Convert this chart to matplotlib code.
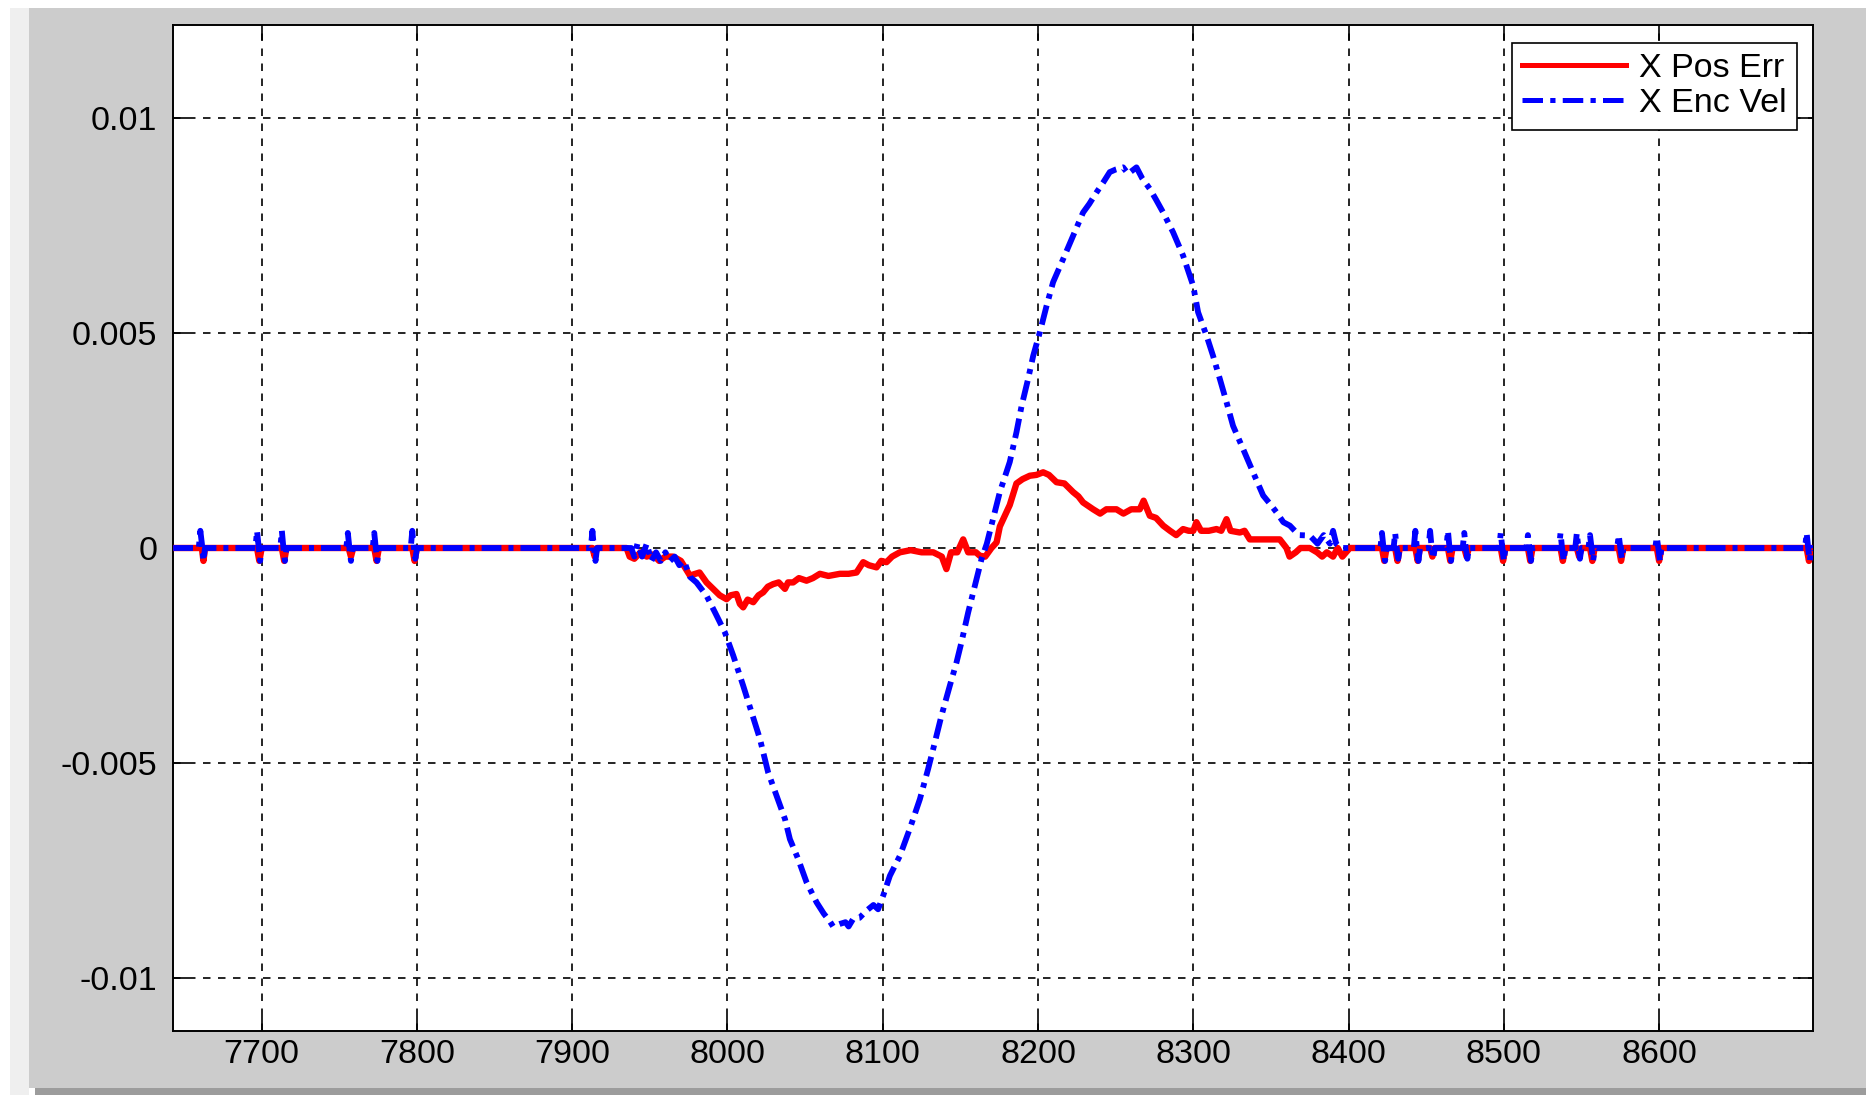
import matplotlib
matplotlib.use("Agg")
import matplotlib.pyplot as plt
from matplotlib.patches import Rectangle

plt.rcParams['font.family'] = ['Liberation Sans', 'DejaVu Sans']

# X Enc Vel (blue, dash-dot)
vel_x = [7643, 7659.5, 7660.5, 7661.5, 7662.5, 7663.5,
         7696, 7697, 7698, 7699, 7700,
         7712, 7713, 7714, 7715, 7716,
         7754.5, 7755.5, 7756.5, 7757.5, 7758.5,
         7771.5, 7772.5, 7773.5, 7774.5, 7775.5,
         7796, 7797, 7798, 7799, 7800,
         7912, 7913, 7914, 7915, 7916,
         7938, 7940, 7942, 7945, 7948, 7951, 7954, 7957, 7960, 7963, 7966, 7969, 7972,
         7975.8, 7980, 7986.5, 7992, 7998.3, 8003.7, 8010.1, 8015.5, 8020.9, 8026.2,
         8031.6, 8037, 8040.2, 8045.5, 8050.9, 8057.4, 8062, 8065.9, 8068, 8072.4,
         8076, 8078, 8081, 8085, 8089.6, 8094, 8097, 8100.3, 8104.6, 8111, 8117.4,
         8123.9, 8129.2, 8132.5, 8137.8, 8143.2, 8147.5, 8150.7, 8155, 8159.3, 8163.6,
         8167, 8171, 8175.4, 8181.8, 8186.1, 8189.4, 8193.6, 8196.9, 8201.2, 8205.5,
         8209.7, 8216.2, 8222.6, 8229, 8233, 8237.7, 8242, 8246.2, 8250, 8254.8, 8258,
         8263.4, 8267, 8272, 8276, 8280.6, 8287, 8293.4, 8299.9, 8303.1, 8308.5, 8312.7,
         8317.1, 8321.4, 8325.6, 8332.1, 8338.5, 8345, 8350, 8353.6, 8358, 8362.2, 8368,
         8375, 8380, 8384, 8388, 8390, 8392, 8395, 8400.8,
         8420.5, 8421.5, 8422.5, 8423.5, 8424.5,
         8429, 8430, 8431, 8432, 8433,
         8442, 8443, 8444, 8445, 8446,
         8451.5, 8452.5, 8453.5, 8454.5, 8455.5,
         8463, 8464, 8465, 8466, 8467,
         8473.5, 8474.5, 8475.5, 8476.5, 8477.5,
         8497, 8498, 8499, 8500, 8501,
         8514.5, 8515.5, 8516.5, 8517.5, 8518.5,
         8535.5, 8536.5, 8537.5, 8538.5, 8539.5,
         8546, 8547, 8548, 8549, 8550,
         8554.5, 8555.5, 8556.5, 8557.5, 8558.5,
         8573, 8574, 8575, 8576, 8577,
         8597.5, 8598.5, 8599.5, 8600.5, 8601.5,
         8694, 8695, 8696, 8697, 8698, 8699.3]
vel_y = [0, 0, 0.00040, 0.00010, -0.00030, 0,
         0, 0.00040, 0.00005, -0.00030, 0,
         0, 0.00040, 0.0, -0.00030, 0,
         0, 0.00035, 0.0, -0.00030, 0,
         0, 0.00035, 0.0, -0.00030, 0,
         0, 0.00040, 0.0, -0.00025, 0,
         0, 0.00040, 0.0, -0.00030, 0,
         0, -0.0002, 0.0001, -0.0002, 0.0001, -0.0003, -0.0001, -0.0003, -0.0001, -0.0003, -0.0002, -0.0004, -0.0003,
         -0.00067, -0.0008, -0.00111, -0.0015, -0.00196, -0.0025, -0.0032, -0.00382, -0.00444, -0.00522,
         -0.00576, -0.0063, -0.00677, -0.00723, -0.00777, -0.00824, -0.0085, -0.00868, -0.0088, -0.00874,
         -0.0087, -0.0088, -0.00862, -0.0086, -0.00843, -0.0083, -0.0084, -0.00808, -0.00762, -0.00716, -0.00653,
         -0.00584, -0.00514, -0.00467, -0.0039, -0.0032, -0.00266, -0.00219, -0.0015, -0.00088, -0.00026,
         0.0001, 0.00067, 0.0013, 0.002, 0.00269, 0.0033, 0.00393, 0.00447, 0.00502, 0.00563,
         0.00618, 0.00672, 0.00726, 0.0078, 0.0080, 0.00827, 0.0085, 0.00874, 0.0088, 0.00885, 0.0087,
         0.00885, 0.0086, 0.00835, 0.0081, 0.0078, 0.00734, 0.0068, 0.0061, 0.00548, 0.00494, 0.00447,
         0.00393, 0.00339, 0.00284, 0.0023, 0.00176, 0.00122, 0.0010, 0.00083, 0.0006, 0.00052, 0.0003,
         0.00029, 0.0001, 0.0003, 0.0001, 0.0004, 0.0001, 0.0, 0.0,
         0, 0.00035, 0.0, -0.00030, 0,
         0, 0.00035, 0.0, -0.00025, 0,
         0, 0.00040, 0.0, -0.00030, 0,
         0, 0.00040, 0.0, -0.00025, 0,
         0, 0.00040, 0.0, -0.00030, 0,
         0, 0.00035, 0.0, -0.00025, 0,
         0, 0.00035, 0.0, -0.00030, 0,
         0, 0.00030, 0.0, -0.00030, 0,
         0, 0.00035, 0.0, -0.00030, 0,
         0, 0.00035, 0.0, -0.00025, 0,
         0, 0.00030, 0.0, -0.00030, 0,
         0, 0.00030, 0.0, -0.00025, 0,
         0, 0.00025, 0.0, -0.00030, 0,
         0, 0.00035, 0.0, -0.00030, 0, 0]

# X Pos Err (red, solid)
err_x = [7643, 7661.5, 7662.5, 7663.5, 7697, 7698.5, 7700, 7713, 7714.5, 7716,
         7756, 7757.5, 7759, 7772.5, 7774, 7775.5, 7797, 7798.5, 7800, 7913, 7914.5, 7916,
         7935, 7937, 7940, 7944, 7948, 7952, 7956, 7960, 7965, 7970,
         7975.8, 7982, 7986.5, 7990.8, 7995, 7999.4, 8002, 8005.8, 8008, 8010.1, 8013,
         8016.6, 8020, 8023, 8026, 8029.4, 8033, 8037, 8039, 8042.3, 8046, 8050.9, 8055,
         8059.5, 8065, 8072.4, 8078, 8083.1, 8087.4, 8091, 8096, 8099, 8102.4, 8106,
         8111, 8118, 8125, 8132.5, 8138, 8141, 8144, 8148, 8151.8, 8155, 8160, 8162.5,
         8166, 8170, 8173.3, 8175.4, 8181.8, 8186.1, 8190, 8194.7, 8199, 8203.3, 8207,
         8211.9, 8217, 8222.6, 8226, 8229, 8235.5, 8240, 8244, 8250.5, 8255, 8260,
         8265.5, 8268, 8272, 8276, 8280.6, 8285, 8289, 8293.4, 8297, 8300, 8302, 8305,
         8310, 8314.9, 8318, 8321.4, 8324, 8330, 8333, 8336.4, 8345, 8355.7, 8360, 8362,
         8366, 8369, 8375, 8379.7, 8383, 8386, 8390, 8393, 8396, 8400.8,
         8421.5, 8423, 8424.5, 8430, 8431.5, 8433, 8443, 8444.5, 8446, 8452.5, 8454, 8455.5,
         8464, 8465.5, 8467, 8474.5, 8476, 8477.5, 8498, 8499.5, 8501, 8515.5, 8517, 8518.5,
         8536.5, 8538, 8539.5, 8547, 8548.5, 8550, 8555.5, 8557, 8558.5, 8574, 8575.5, 8577,
         8598.5, 8600, 8601.5, 8695, 8696.5, 8698, 8699.3]
err_y = [0, 0, -0.0003, 0, 0, -0.0003, 0, 0, -0.0003, 0,
         0, -0.0002, 0, 0, -0.0003, 0, 0, -0.0003, 0, 0, -0.0002, 0,
         0, -0.0002, -0.00025, -0.0001, -0.0002, -0.00015, -0.0003, -0.0002, -0.0002, -0.0003,
         -0.00064, -0.00057, -0.0008, -0.00095, -0.0011, -0.00119, -0.0011, -0.00107, -0.0013, -0.00138, -0.0012,
         -0.00126, -0.0011, -0.00103, -0.0009, -0.00084, -0.0008, -0.00095, -0.0008, -0.0008, -0.0007, -0.00076, -0.0007,
         -0.0006, -0.00065, -0.0006, -0.0006, -0.00057, -0.00033, -0.0004, -0.00045, -0.0003, -0.00033, -0.0002,
         -0.0001, -0.00005, -0.0001, -0.0001, -0.0002, -0.00049, -0.0001, -0.0001, 0.0002, -0.0001, -0.0001, -0.00018,
         -0.0002, 0.0, 0.00013, 0.0005, 0.001, 0.0015, 0.0016, 0.00168, 0.0017, 0.00176, 0.0017,
         0.00153, 0.0015, 0.0013, 0.0012, 0.00106, 0.0009, 0.0008, 0.0009, 0.0009, 0.0008, 0.0009,
         0.0009, 0.0011, 0.00075, 0.0007, 0.00052, 0.0004, 0.0003, 0.00044, 0.0004, 0.0004, 0.0006, 0.0004,
         0.0004, 0.00044, 0.0004, 0.00067, 0.0004, 0.00036, 0.0004, 0.0002, 0.0002, 0.0002, 0.0, -0.0002,
         -0.0001, 0.0, 0.0, -0.0001, -0.0002, -0.0001, -0.0002, 0.0, -0.0002, 0.0,
         0, -0.0003, 0, 0, -0.0003, 0, 0, -0.0003, 0, 0, -0.0002, 0,
         0, -0.0003, 0, 0, -0.0002, 0, 0, -0.0003, 0, 0, -0.0003, 0,
         0, -0.0003, 0, 0, -0.0002, 0, 0, -0.0003, 0, 0, -0.0003, 0,
         0, -0.0003, 0, 0, -0.0003, 0, 0]

x_ticks = [7700, 7800, 7900, 8000, 8100, 8200, 8300, 8400, 8500, 8600]
y_ticks = [-0.01, -0.005, 0, 0.005, 0.01]
y_tick_labels = ['-0.01', '-0.005', '0', '0.005', '0.01']

W, H = 1871, 1095
fig = plt.figure(figsize=(W / 100, H / 100), dpi=100, facecolor='white')

# matlab-ish window frame, kept behind the axes
fig.patches.append(Rectangle((10 / W, 0), 19 / W, 1 - 8 / H, transform=fig.transFigure,
                             facecolor='#efefef', edgecolor='none', zorder=-12))
fig.patches.append(Rectangle((35 / W, 0), 1831 / W, 7 / H, transform=fig.transFigure,
                             facecolor='#9c9c9c', edgecolor='none', zorder=-11))
fig.patches.append(Rectangle((29 / W, 7 / H), 1837 / W, 1080 / H, transform=fig.transFigure,
                             facecolor='#cccccc', edgecolor='none', zorder=-10))

ax = fig.add_axes([172.7 / W, 1 - 1031 / H, 1640.6 / W, 1006 / H])
ax.set_facecolor('white')

dashdot = (0, (4.1, 1.45, 1.05, 1.45))
ax.plot(err_x, err_y, color='#ff0000', lw=4.6, solid_joinstyle='round', label='X Pos Err', zorder=3)
ax.plot(vel_x, vel_y, color='#0000ff', lw=4.2, linestyle=(0, (3.4, 1.2, 0.86, 1.2)),
        dash_joinstyle='round', label='X Enc Vel', zorder=4)

ax.set_xlim(7642.7, 8699.3)
ax.set_ylim(-0.01123, 0.01216)
ax.set_xticks(x_ticks)
ax.set_yticks(y_ticks)
ax.set_yticklabels(y_tick_labels)

ax.grid(True, color='black', lw=1.2, linestyle=(0, (4.5, 4.5)), zorder=1)
ax.tick_params(axis='both', direction='in', length=10.5, width=1.2, top=True, right=True,
               labelsize=24.5, colors='black')
ax.tick_params(axis='x', pad=6)
ax.tick_params(axis='y', pad=11)
for s in ax.spines.values():
    s.set_linewidth(1.4)
    s.set_color('black')

leg = ax.legend(loc='upper right', bbox_to_anchor=(0.9902, 0.9821), borderaxespad=0,
                fontsize=24.5, handlelength=3.05, handletextpad=0.4, borderpad=0.3,
                labelspacing=0.12, fancybox=False, framealpha=1, edgecolor='black')
leg.get_frame().set_linewidth(1.2)
leg_lines = leg.get_lines()
leg_lines[0].set_linewidth(3.6)
leg_lines[1].set_linewidth(3.6)
leg_lines[1].set_linestyle(dashdot)

fig.savefig('out.png', dpi=100, facecolor=fig.get_facecolor())
